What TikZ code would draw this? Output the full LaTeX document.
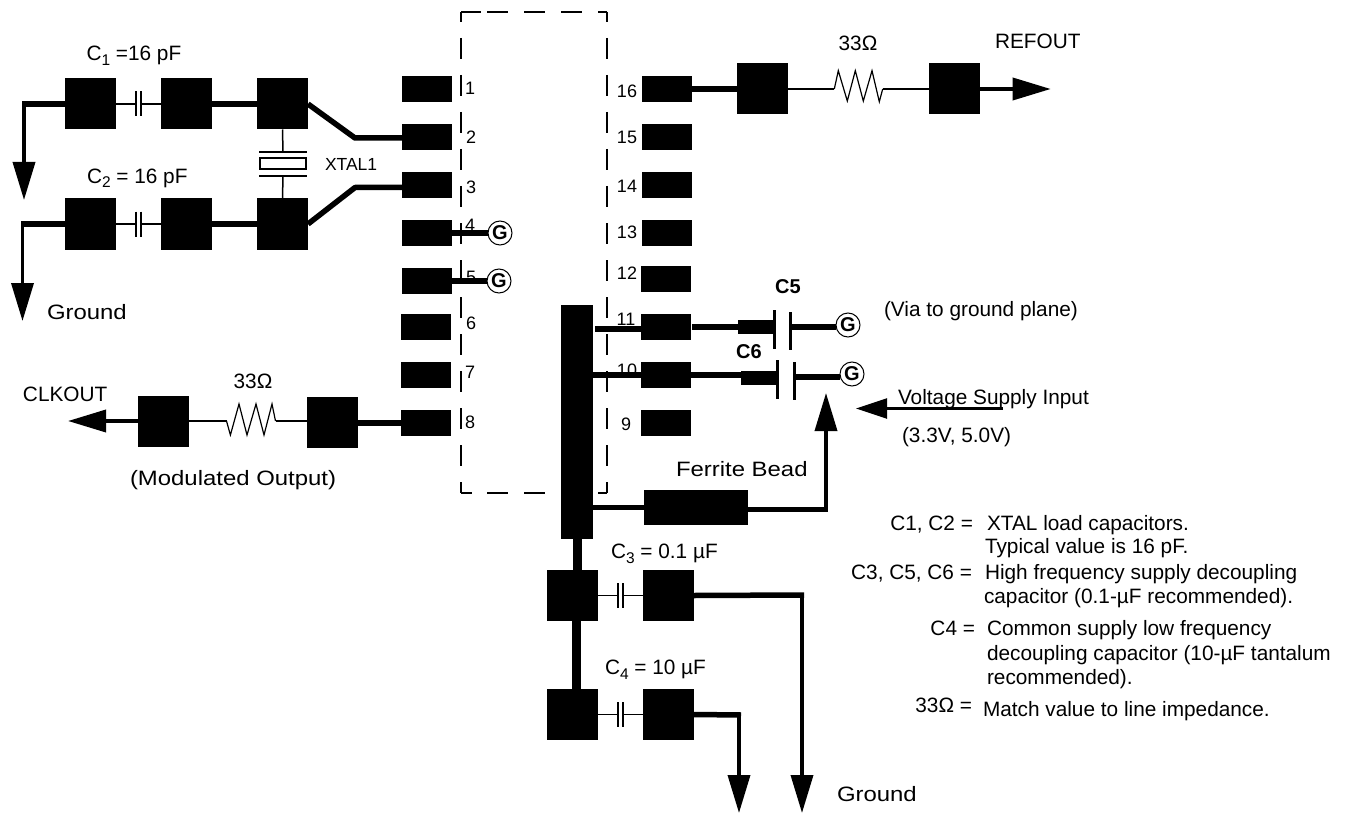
\documentclass[tikz,border=0pt]{standalone}
\usepackage{fontspec}
\setmainfont{Liberation Sans}
\newfontfamily\widefont[FakeStretch=1.15]{Liberation Sans}
\usetikzlibrary{arrows.meta}
\newcommand\subdigit[1]{\raisebox{-5pt}{\fontsize{15.5}{15}\selectfont #1}}
\tikzset{
  x=1pt,y=-1pt,
  pad/.style={fill=black,inner sep=0,outer sep=0,minimum width=50pt,minimum height=26pt},
  blk/.style={fill=black,inner sep=0,outer sep=0,minimum width=51pt,minimum height=51pt},
  thick wire/.style={line width=5.5pt,line cap=butt},
  drop wire/.style={line width=3.6pt},
  thin wire/.style={line width=1.5pt},
  zig/.style={line width=1.2pt,line join=miter},
  plate/.style={line width=2pt},
  bigplate/.style={line width=2.6pt},
  dash box/.style={line width=2.4pt,dash pattern=on 21pt off 16pt},
  solid box/.style={line width=2.4pt},
  head down/.style={-{Triangle[length=38pt,width=22pt]}},
  txt/.style={inner sep=0,outer sep=0,anchor=base west,font=\fontsize{20.8}{24}\selectfont},
  wtxt/.style={inner sep=0,outer sep=0,anchor=base west,font=\widefont\fontsize{20.8}{24}\selectfont},
  rtxt/.style={inner sep=0,outer sep=0,anchor=base east,font=\fontsize{20.8}{24}\selectfont},
  num/.style={inner sep=0,outer sep=0,anchor=center,font=\fontsize{18}{20}\selectfont},
  bold/.style={inner sep=0,outer sep=0,anchor=center,font=\bfseries\fontsize{20}{22}\selectfont},
  gnd/.style={circle,draw=black,line width=1pt,fill=white,minimum size=24pt,inner sep=0,outer sep=0,font=\bfseries\fontsize{20}{22}\selectfont}
}
% small capacitor: #1 name, #2 x of first plate, #3 y of wire
\newcommand\smallcap[3]{%
  \coordinate (#1-l) at (#2,#3);
  \coordinate (#1-r) at (#2+5,#3);
  \draw[plate] (#2,#3-12.5) -- (#2,#3+12.5);
  \draw[plate] (#2+5,#3-12.5) -- (#2+5,#3+12.5);
}
\begin{document}
\begin{tikzpicture}
\useasboundingbox (0,0) rectangle (1351,813);
% package outline
\draw[dash box,dash phase=11pt] (461,12) -- (461,493);
\draw[dash box,dash phase=11pt] (607,12) -- (607,493);
\draw[solid box] (461,12) -- (481,12);
\draw[dash box] (487,12) -- (607,12);
\draw[solid box] (461,493) -- (472,493);
\draw[dash box] (487,493) -- (607,493);
% pin numbers
\foreach \n/\px/\py in {1/470/88,2/471/137,3/471/187,4/470/225,5/471/277,6/471/323,7/470/372,8/470/422,
  16/627/91,15/627/137,14/627/186,13/627/232,12/627/273,11/626/319,10/627/370,9/626/424}
  \node[num] (n\n) at (\px,\py) {\n};
% pads
\node[pad] (p1) at (427,89) {};
\node[pad] (p2) at (427,137) {};
\node[pad] (p3) at (427,185) {};
\node[pad] (p4) at (427,233) {};
\node[pad] (p5) at (427,281) {};
\node[pad] (p6) at (426,327) {};
\node[pad] (p7) at (426,375) {};
\node[pad] (p8) at (426,423) {};
\node[pad] (p16) at (667,89) {};
\node[pad] (p15) at (667,137) {};
\node[pad] (p14) at (667,185) {};
\node[pad] (p13) at (667,233) {};
\node[pad] (p12) at (666,279) {};
\node[pad] (p11) at (666,327) {};
\node[pad] (p10) at (666,375) {};
\node[pad] (p9) at (666,423) {};
% crystal rows
\node[blk] (a1) at (90.5,104) {};
\node[blk] (a2) at (186.5,104) {};
\node[blk] (a3) at (282.5,104) {};
\node[blk] (b1) at (90.5,224) {};
\node[blk] (b2) at (186.5,224) {};
\node[blk] (b3) at (282.5,224) {};
\smallcap{ca}{136}{104}
\smallcap{cb}{136}{224}
\draw[thin wire] (a1.east) -- (ca-l);
\draw[thin wire] (ca-r) -- (a2.west);
\draw[thin wire] (b1.east) -- (cb-l);
\draw[thin wire] (cb-r) -- (b2.west);
\draw[thick wire] (a2.east) -- (a3.west);
\draw[thick wire] (b2.east) -- (b3.west);
\coordinate (ela) at (22.2,104);
\coordinate (elb) at (20.5,224);
\draw[thick wire] (a1.west) -- (ela);
\draw[thick wire] (b1.west) -- (elb);
\coordinate (ga) at (24,200);
\coordinate (gb) at (22.5,321);
\draw[drop wire,head down] (24,104) -- (ga);
\draw[drop wire,head down] (22.5,224) -- (gb);
\coordinate (ka) at (355,138);
\coordinate (kb) at (355,187.5);
\draw[thick wire,line join=round] (a3.east) -- (ka) -- (p2.west |- ka);
\draw[thick wire,line join=round] (b3.east) -- (kb) -- (p3.west |- kb);
% crystal
\coordinate (xa) at (283,152);
\coordinate (xb) at (283,176);
\draw[thin wire] (a3.south) -- (xa);
\draw[thin wire] (xb) -- (b3.north);
\draw[plate] (259,152) -- (307,152);
\draw[plate] (259,176) -- (307,176);
\draw[plate] (260,158.5) rectangle (306,169);
\node[txt,font=\fontsize{17.5}{20}\selectfont] (xtal) at (325,171) {XTAL1};
% G on pins 4,5
\node[gnd] (g4) at (500,233) {G};
\node[gnd] (g5) at (499,281) {G};
\draw[thick wire] (p4.east) -- (g4.west);
\draw[thick wire] (p5.east) -- (g5.west);
% labels left
\node[txt] (l1) at (86.5,61) {C\subdigit{1} =16 pF};
\node[txt] (l2) at (87,183) {C\subdigit{2} = 16 pF};
\node[wtxt] (gl) at (47,319.5) {Ground};
% REFOUT
\node[blk] (r1) at (762.5,89) {};
\node[blk] (r2) at (954.5,89) {};
\draw[thick wire] (p16.east) -- (r1.west);
\coordinate (za) at (834.3,89);
\coordinate (zb) at (882.7,89);
\draw[thin wire] (r1.east) -- (za);
\draw[thin wire] (zb) -- (r2.west);
\draw[zig] (za) -- (838.3,70.7) -- (847.3,101) -- (855.3,70.7) -- (863.3,101) -- (872,70.7) -- (879.3,101.7) -- (zb);
\coordinate (refend) at (1050.7,89);
\draw[drop wire,-{Triangle[length=38pt,width=22pt]}] (r2.east) -- (refend);
\node[txt,anchor=center] (ohm1) at (858,43) {33Ω};
\node[txt] (refout) at (995,48.5) {REFOUT};
% CLKOUT
\node[blk] (q1) at (163.5,421) {};
\node[blk] (q2) at (332.5,422) {};
\draw[thick wire] (p8.west) -- (q2.east |- p8.west);
\coordinate (ya) at (226.5,421);
\coordinate (yb) at (275.5,421);
\draw[thin wire] (q1.east) -- (ya);
\draw[thin wire] (yb) -- (q2.west |- yb);
\draw[zig] (ya) -- (230.4,435) -- (239,404) -- (247,435) -- (256,404) -- (264,435) -- (272,404) -- (yb);
\coordinate (clkend) at (68,421);
\draw[drop wire,-{Triangle[length=38pt,width=22pt]}] (q1.west) -- (clkend);
\node[txt] (clk) at (23,401.5) {CLKOUT};
\node[txt,anchor=center] (ohm2) at (253,381) {33Ω};
\node[wtxt] (modo) at (130,485) {(Modulated Output)};
% supply bar
\node[fill=black,inner sep=0,outer sep=0,minimum width=32pt,minimum height=234pt] (bar) at (577,422) {};
% C3 / C4
\node[blk] (c3a) at (572.5,595.5) {};
\node[blk] (c3b) at (668.5,595.5) {};
\node[blk] (c4a) at (572.5,714.5) {};
\node[blk] (c4b) at (668.5,714.5) {};
\draw[line width=9pt] (577.5,539) -- (577.5,570);
\draw[line width=9pt] (576.5,621) -- (576.5,689);
\smallcap{cc}{618}{595.5}
\smallcap{cd}{618}{714.5}
\draw[thin wire] (c3a.east) -- (cc-l);
\draw[thin wire] (cc-r) -- (c3b.west);
\draw[thin wire] (c4a.east) -- (cd-l);
\draw[thin wire] (cd-r) -- (c4b.west);
\coordinate (ec) at (804,595);
\coordinate (ed) at (741,715);
\draw[thick wire] (c3b.east) -- (ec);
\draw[thick wire] (c4b.east) -- (ed);
\coordinate (gc) at (802,813);
\coordinate (gd) at (739,813);
\draw[drop wire,head down] (802,595) -- (gc);
\draw[drop wire,head down] (739,715) -- (gd);
\node[txt] (l3) at (611,558) {C\subdigit{3} = 0.1 µF};
\node[txt] (l4) at (605,674) {C\subdigit{4} = 10 µF};
\node[wtxt] (gl2) at (837,801) {Ground};
% ferrite
\node[fill=black,inner sep=0,outer sep=0,minimum width=104pt,minimum height=35pt] (fb) at (696,507.5) {};
\draw[thick wire] (bar.east |- fb.west) -- (fb.west);
\coordinate (fe) at (827.5,509.5);
\draw[thick wire] (fb.east |- fe) -- (fe);
\coordinate (vdd) at (826,393);
\draw[drop wire,head down] (826,511) -- (vdd);
\node[wtxt] (ferr) at (676,476.5) {Ferrite Bead};
% C5
\coordinate (s11) at (595,329);
\draw[thick wire] (s11) -- (p11.west |- s11);
\node[fill=black,inner sep=0,outer sep=0,minimum width=37pt,minimum height=14pt] (c5b) at (756.5,327) {};
\draw[thick wire] (p11.east) ++(1,0) -- (c5b.west);
\draw[bigplate] (774.5,310) -- (774.5,349);
\draw[bigplate] (790.5,312) -- (790.5,350);
\node[gnd] (g11) at (848,325) {G};
\coordinate (c5r) at (792,327);
\draw[thick wire] (c5r) -- (g11.west |- c5r);
\node[bold] (c5) at (788,287) {C5};
% C6
\draw[thick wire] (bar.east |- p10.west) -- (p10.west);
\node[fill=black,inner sep=0,outer sep=0,minimum width=36pt,minimum height=14pt] (c6b) at (759,378) {};
\draw[thick wire] (p10.east) -- (c6b.west |- p10.east);
\draw[bigplate] (777.5,360) -- (777.5,399);
\draw[bigplate] (794.5,362) -- (794.5,400);
\node[gnd] (g10) at (852,374) {G};
\coordinate (c6r) at (796,377);
\draw[thick wire] (c6r) -- (g10.west |- c6r);
\node[bold] (c6) at (749,352) {C6};
% supply input
\node[txt] (via) at (884,316) {(Via to ground plane)};
\node[txt] (vin) at (898,404) {Voltage Supply Input};
\coordinate (vs) at (1003,408.5);
\coordinate (vt) at (856,408.5);
\draw[line width=2.4pt,-{Triangle[length=31pt,width=20pt]}] (vs) -- (vt);
\node[txt] (vr) at (902,442) {(3.3V, 5.0V)};
% legend
\node[rtxt] (k1) at (973,530.5) {C1, C2 =};
\node[txt] (t1) at (987,530.5) {XTAL load capacitors.};
\node[txt] (t2) at (985,553.5) {Typical value is 16 pF.};
\node[rtxt] (k2) at (972,579.5) {C3, C5, C6 =};
\node[txt] (t3) at (985,579.5) {High frequency supply decoupling};
\node[txt] (t4) at (984,603.5) {capacitor (0.1-µF recommended).};
\node[rtxt] (k3) at (975,635.5) {C4 =};
\node[txt] (t5) at (987,635.5) {Common supply low frequency};
\node[txt] (t6) at (987,660.5) {decoupling capacitor (10-µF tantalum};
\node[txt] (t7) at (987,684.5) {recommended).};
\node[rtxt] (k4) at (972,712.5) {33Ω =};
\node[txt] (t8) at (983,716.5) {Match value to line impedance.};
\end{tikzpicture}
\end{document}
